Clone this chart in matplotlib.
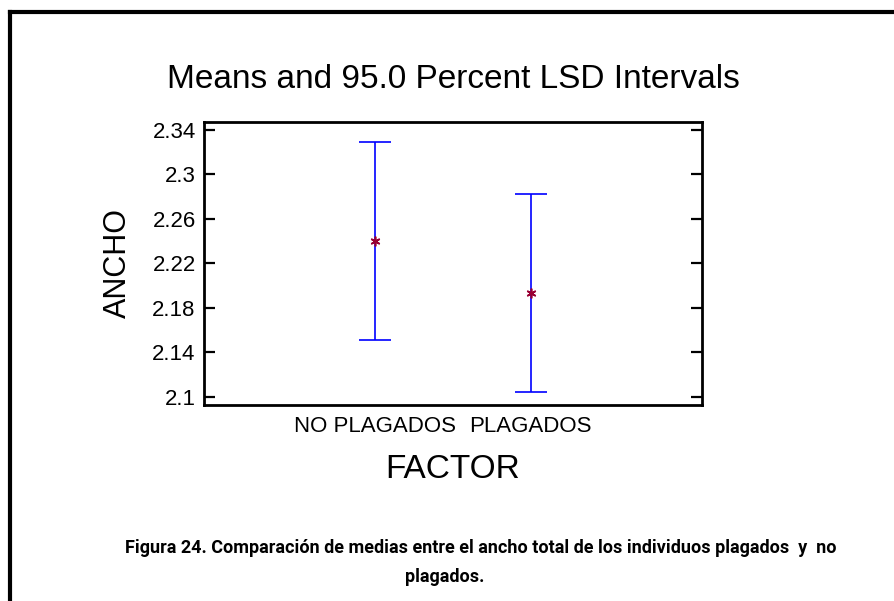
import matplotlib
matplotlib.use("Agg")
import matplotlib.pyplot as plt
from matplotlib.lines import Line2D

# ---- data ----
categories = ["NO PLAGADOS", "PLAGADOS"]
means = [2.240, 2.193]
lower = [2.151, 2.104]
upper = [2.329, 2.282]
yticks = [2.1, 2.14, 2.18, 2.22, 2.26, 2.3, 2.34]
ytick_labels = ["2.1", "2.14", "2.18", "2.22", "2.26", "2.3", "2.34"]

main_font = ["Liberation Sans", "DejaVu Sans"]
cap_font = ["Roboto", "Liberation Sans", "DejaVu Sans"]

W, H = 895, 601
fig = plt.figure(figsize=(W / 100, H / 100), dpi=100)
fig.patch.set_facecolor("white")

# axes position in pixels
left, right, top, bottom = 204, 702, 122, 405
ax = fig.add_axes([left / W, 1 - bottom / H, (right - left) / W, (bottom - top) / H])

x = list(range(1, len(categories) + 1))
yerr = [[m - l for m, l in zip(means, lower)], [u - m for m, u in zip(means, upper)]]
ax.errorbar(x, means, yerr=yerr, fmt="none", ecolor="#0000ff", elinewidth=1.2,
            capsize=11.5, capthick=1.2)
ax.plot(x, means, linestyle="none", marker=(6, 2, 0), markersize=7,
        color="#990033", markeredgewidth=1.2)

ax.set_xlim(-0.1, 3.1)
ax.set_ylim(2.0925, 2.347)
ax.set_xticks(x)
ax.set_xticklabels(categories, fontsize=16, family=main_font)
ax.set_yticks(yticks)
ax.set_yticklabels(ytick_labels, fontsize=16, family=main_font)
ax.tick_params(axis="x", length=0, pad=8)
ax.tick_params(axis="y", direction="in", length=8, width=1.6, left=True, right=True, pad=6)
for s in ax.spines.values():
    s.set_linewidth(2.0)

ax.set_ylabel("ANCHO", fontsize=22, family=main_font, labelpad=14)
ax.set_xlabel("FACTOR", fontsize=24, family=main_font, labelpad=12)

fig.text(0.5 * (left + right) / W, 1 - 80 / H, "Means and 95.0 Percent LSD Intervals",
         ha="center", va="center", fontsize=24, family=main_font)

fig.text(481 / W, 1 - 548 / H,
         "Figura 24. Comparación de medias entre el ancho total de los individuos plagados  y  no",
         ha="center", va="center", fontsize=13, fontweight="bold", family=cap_font)
fig.text(445 / W, 1 - 577 / H, "plagados.",
         ha="center", va="center", fontsize=13, fontweight="bold", family=cap_font)

# outer frame lines (top and left)
fig.add_artist(Line2D([10 / W, 1.0], [1 - 12 / H, 1 - 12 / H], color="black", linewidth=3,
                      transform=fig.transFigure))
fig.add_artist(Line2D([10 / W, 10 / W], [1 - 12 / H, 0.0], color="black", linewidth=3,
                      transform=fig.transFigure))

fig.savefig("out.png", dpi=100)
